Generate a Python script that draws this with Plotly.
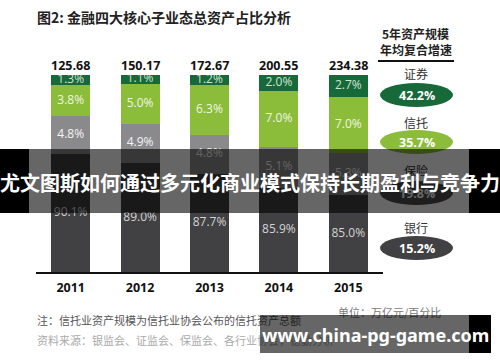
import plotly.graph_objects as go

# ---------------- data ----------------
years = ["2011", "2012", "2013", "2014", "2015"]
totals = ["125.68", "150.17", "172.67", "200.55", "234.38"]
bank = [90.1, 89.0, 87.7, 85.9, 85.0]
insurance = [4.8, 4.9, 4.8, 5.1, 5.3]
trust = [3.8, 5.0, 6.3, 7.0, 7.0]
securities = [1.3, 1.1, 1.2, 2.0, 2.7]

cagr_names = ["证券", "信托", "保险", "银行"]
cagr_values = ["42.2%", "35.7%", "19.8%", "15.2%"]

title_text = "图2: 金融四大核心子业态总资产占比分析"
cagr_header = ["5年资产规模", "年均复合增速"]
unit_text = "单位：万亿元/百分比"
note1 = "注：信托业资产规模为信托业协会公布的信托资产总额"
note2 = "资料来源：银监会、证监会、保监会、各行业协会，德勤分析"
banner_text = "尤文图斯如何通过多元化商业模式保持长期盈利与竞争力"
site_text = "www.china-pg-game.com"

# ---------------- style ----------------
W, H = 500, 362
ML, MR, MT, MB = 36, 117, 75, 90
PW, PH = W - ML - MR, H - MT - MB
YMIN, YMAX = 75.4, 100

C_BANK = "#414042"
C_INS = "#8a8a8c"
C_TRUST = "#8cbd3a"
C_SEC = "#18693a"

FONT = "Open Sans, Noto Sans CJK SC, sans-serif"
CJK = "Noto Sans CJK SC, sans-serif"


def ax(px):
    return (px - ML) / PW


def ay(py):
    return (H - MB - py) / PH


fig = go.Figure()
series = [
    ("银行", bank, C_BANK, "#d4d4d4"),
    ("保险", insurance, C_INS, "#f4f4f4"),
    ("信托", trust, C_TRUST, "#eef5e2"),
    ("证券", securities, C_SEC, "#cfe3d2"),
]
for name, vals, col, _ in series:
    fig.add_trace(go.Bar(x=years, y=vals, name=name, marker=dict(color=col, line=dict(width=0)),
                         hoverinfo="skip"))

# segment labels (centered on visible part of each segment)
base = [0.0] * len(years)
for i, (name, vals, col, tcol) in enumerate(series):
    mids = []
    for j, v in enumerate(vals):
        lo = max(base[j], YMIN)
        hi = base[j] + v
        mids.append((lo + hi) / 2)
        base[j] = hi
    fig.add_trace(go.Scatter(x=years, y=mids, mode="text",
                             text=[f"{v:.1f}%" for v in vals],
                             textfont=dict(family=FONT, size=12, color=tcol),
                             hoverinfo="skip", showlegend=False))

shapes = []
annotations = []

# totals on top of bars
for j, tot in enumerate(totals):
    annotations.append(dict(xref="x", yref="y", x=j, y=YMAX, yshift=10, xanchor="center", yanchor="middle",
                            text="<b>" + tot + "</b>", showarrow=False,
                            font=dict(family="Open Sans, sans-serif", size=12.5, color="#111111")))

# title
annotations.append(dict(xref="paper", yref="paper", x=ax(35), y=ay(17), xanchor="left", yanchor="middle",
                        text="<b>" + title_text + "</b>", showarrow=False,
                        font=dict(family=CJK, size=14, color="#222222")))
# CAGR panel
for k, (txt, yy) in enumerate(zip(cagr_header, [34, 50])):
    annotations.append(dict(xref="paper", yref="paper", x=ax(416), y=ay(yy), xanchor="center", yanchor="middle",
                            text="<b>" + txt + "</b>", showarrow=False,
                            font=dict(family=CJK, size=12, color="#222222")))
shapes.append(dict(type="line", xref="paper", yref="paper", x0=ax(378), x1=ax(454), y0=ay(61), y1=ay(61),
                   line=dict(color="#111111", width=2)))
ell_cols = [C_SEC, C_TRUST, "#4d4d4d", C_BANK]
name_y = [73, 122, 170, 227]
ell_y = [95, 142, 193, 248]
for k in range(len(cagr_names)):
    annotations.append(dict(xref="paper", yref="paper", x=ax(416), y=ay(name_y[k]), xanchor="center",
                            yanchor="middle", text=cagr_names[k], showarrow=False,
                            font=dict(family=CJK, size=12, color="#333333")))
    shapes.append(dict(type="circle", xref="paper", yref="paper", x0=ax(380), x1=ax(453),
                       y0=ay(ell_y[k] + 12), y1=ay(ell_y[k] - 12), fillcolor=ell_cols[k],
                       line=dict(width=0), layer="above"))
    annotations.append(dict(xref="paper", yref="paper", x=ax(416.5), y=ay(ell_y[k]), xanchor="center",
                            yanchor="middle", text="<b>" + cagr_values[k] + "</b>", showarrow=False,
                            font=dict(family="Open Sans, sans-serif", size=12.5, color="#ffffff")))

# unit and notes
annotations.append(dict(xref="paper", yref="paper", x=ax(390), y=ay(312), xanchor="center", yanchor="middle",
                        text=unit_text, showarrow=False, font=dict(family=CJK, size=11, color="#7a7a7a")))
annotations.append(dict(xref="paper", yref="paper", x=ax(35), y=ay(320), xanchor="left", yanchor="middle",
                        text=note1, showarrow=False, font=dict(family=CJK, size=11, color="#555555")))
annotations.append(dict(xref="paper", yref="paper", x=ax(35), y=ay(340), xanchor="left", yanchor="middle",
                        text=note2, showarrow=False, font=dict(family=CJK, size=11, color="#aaaaaa")))

# overlay banners (black side pieces as shapes; translucent boxes as annotations so they sit on top)
shapes.append(dict(type="rect", xref="paper", yref="paper", x0=ax(0), x1=ax(29), y0=ay(213), y1=ay(149),
                   fillcolor="#000000", line=dict(width=0), layer="above"))
shapes.append(dict(type="rect", xref="paper", yref="paper", x0=ax(469), x1=ax(500), y0=ay(213), y1=ay(149),
                   fillcolor="#000000", line=dict(width=0), layer="above"))
shapes.append(dict(type="rect", xref="paper", yref="paper", x0=ax(469), x1=ax(491), y0=ay(353), y1=ay(315),
                   fillcolor="#000000", line=dict(width=0), layer="above"))
annotations.append(dict(xref="paper", yref="paper", x=ax(0), y=ay(149), xanchor="left", yanchor="top",
                        width=500, height=64, borderpad=0, borderwidth=0, bgcolor="rgba(0,0,0,0.6)",
                        text=" ", showarrow=False))
annotations.append(dict(xref="paper", yref="paper", x=ax(250), y=ay(182), xanchor="center", yanchor="middle",
                        text="<b>" + banner_text + "</b>", showarrow=False,
                        font=dict(family=CJK, size=20, color="#ffffff")))
annotations.append(dict(xref="paper", yref="paper", x=ax(260), y=ay(315), xanchor="left", yanchor="top",
                        width=209, height=38, borderpad=0, borderwidth=0, bgcolor="rgba(0,0,0,0.6)",
                        text=" ", showarrow=False))
annotations.append(dict(xref="paper", yref="paper", x=ax(375), y=ay(335), xanchor="center", yanchor="middle",
                        text="<b>" + site_text + "</b>", showarrow=False,
                        font=dict(family="Noto Sans, sans-serif", size=18, color="#ffffff")))

fig.update_layout(
    width=W, height=H, margin=dict(l=ML, r=MR, t=MT, b=MB, pad=0),
    barmode="stack", bargap=0.44, showlegend=False,
    paper_bgcolor="#ffffff", plot_bgcolor="#ffffff",
    xaxis=dict(type="category", range=[-0.5, len(years) - 0.5], showline=True, linecolor="#111111",
               linewidth=2, ticks="", showgrid=False,
               tickfont=dict(family="Open Sans, sans-serif", size=12.5, color="#111111"),
               ticklabelstandoff=3, fixedrange=True),
    yaxis=dict(range=[YMIN, YMAX], visible=False, showgrid=False, fixedrange=True),
    shapes=shapes, annotations=annotations,
)
fig.update_xaxes(tickvals=years, ticktext=["<b>" + y + "</b>" for y in years])

fig.write_html("out.html", config={"displayModeBar": False},
               post_script="document.body.style.margin='0';document.body.style.overflow='hidden';")
